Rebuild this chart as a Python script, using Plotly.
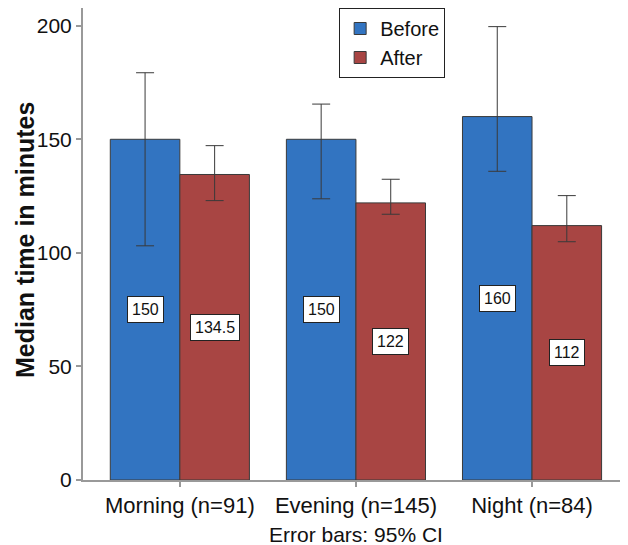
import plotly.graph_objects as go

categories = ["Morning (n=91)", "Evening (n=145)", "Night (n=84)"]
before_vals = [150, 150, 160]
after_vals = [134.5, 122, 112]
before_hi = [179.3, 165.5, 199.6]
before_lo = [103.1, 123.8, 135.9]
after_hi = [147.2, 132.4, 125.2]
after_lo = [123.0, 117.0, 104.9]
value_labels_before = ["150", "150", "160"]
value_labels_after = ["134.5", "122", "112"]
y_ticks = [0, 50, 100, 150, 200]

FONT = "Liberation Sans, Arial, sans-serif"
BLUE = "#3274C1"
RED = "#A84543"

def err(vals, hi, lo):
    return dict(type="data", symmetric=False,
                array=[h - v for h, v in zip(hi, vals)],
                arrayminus=[v - l for v, l in zip(vals, lo)],
                color="#3a3a3a", thickness=1, width=9)

fig = go.Figure()
fig.add_trace(go.Bar(name="Before", x=categories, y=before_vals,
                     marker=dict(color=BLUE, line=dict(color="#3a3a3a", width=1)),
                     error_y=err(before_vals, before_hi, before_lo)))
fig.add_trace(go.Bar(name="After", x=categories, y=after_vals,
                     marker=dict(color=RED, line=dict(color="#3a3a3a", width=1)),
                     error_y=err(after_vals, after_hi, after_lo)))

annotations = []
for i, cat in enumerate(categories):
    for vals, labels, off in ((before_vals, value_labels_before, -0.1975),
                              (after_vals, value_labels_after, 0.1975)):
        annotations.append(dict(
            x=i + off, y=vals[i] / 2, xref="x", yref="y", text=labels[i],
            showarrow=False, bgcolor="white", bordercolor="#222", borderwidth=1,
            borderpad=4, font=dict(size=16, color="#111", family=FONT)))

annotations.append(dict(x=1, y=0, xref="x", yref="paper", yanchor="middle",
                        yshift=-54, text="Error bars: 95% CI", showarrow=False,
                        font=dict(size=21, color="#111", family=FONT)))
annotations.append(dict(x=0, y=0.5, xref="paper", yref="paper", xanchor="center",
                        xshift=-58, yshift=4, text="<b>Median time in minutes</b>", textangle=-90,
                        showarrow=False, font=dict(size=25, color="#111", family=FONT)))

fig.update_layout(
    width=620, height=537,
    margin=dict(l=75, r=0, t=0, b=65),
    paper_bgcolor="white", plot_bgcolor="white",
    barmode="group", bargap=0.21, bargroupgap=0,
    font=dict(family=FONT, size=21, color="#111"),
    showlegend=True,
    legend=dict(x=0.47, y=1.0, xanchor="left", yanchor="top",
                bgcolor="white", bordercolor="#222", borderwidth=1,
                font=dict(size=20, color="#111", family=FONT),
                tracegroupgap=0),
    annotations=annotations,
    xaxis=dict(range=[-0.55, 2.545], showline=True, linecolor="#999", linewidth=2,
               ticks="outside", ticklen=5, tickwidth=2, tickcolor="#999",
               showgrid=False, tickfont=dict(size=22, color="#111")),
    yaxis=dict(range=[0, 207.8], tickvals=y_ticks, showline=True, linecolor="#999",
               linewidth=2, ticks="outside", ticklen=5, tickwidth=2, tickcolor="#999",
               showgrid=False, zeroline=False, tickfont=dict(size=21, color="#111")),
)

fig.write_html("out.html")
